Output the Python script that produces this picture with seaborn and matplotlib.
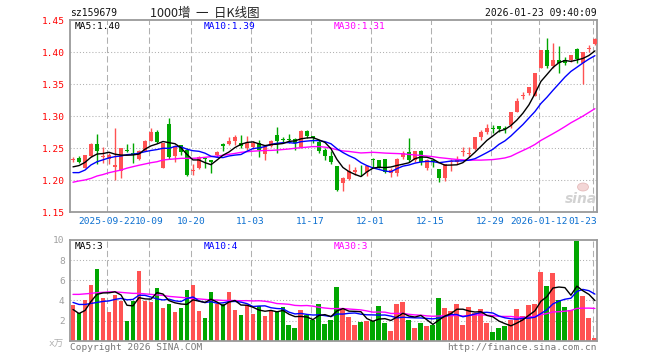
import math
import numpy as np
import pandas as pd
import matplotlib
matplotlib.use("Agg")
import matplotlib.pyplot as plt
from matplotlib.patches import Ellipse
import seaborn as sns

# ---------------- data ----------------
opens = [1.231, 1.235, 1.220, 1.238, 1.257, 1.236, 1.233, 1.221, 1.215, 1.247,
         1.242, 1.233, 1.246, 1.262, 1.276, 1.220, 1.288, 1.238, 1.255, 1.247,
         1.214, 1.219, 1.235, 1.231, 1.239, 1.256, 1.257, 1.262, 1.259, 1.250,
         1.252, 1.259, 1.241, 1.254, 1.271, 1.2645, 1.2645, 1.264, 1.252, 1.277,
         1.269, 1.260, 1.247, 1.238, 1.222, 1.196, 1.202, 1.213, 1.212, 1.2135,
         1.234, 1.232, 1.233, 1.211, 1.211, 1.236, 1.244, 1.231, 1.246, 1.219,
         1.232, 1.218, 1.204, 1.228, 1.228, 1.244, 1.241, 1.249, 1.267, 1.275,
         1.282, 1.285, 1.282, 1.286, 1.307, 1.3317, 1.336, 1.332, 1.376, 1.404,
         1.378, 1.388, 1.388, 1.388, 1.405, 1.383, 1.405, 1.413]
highs = [1.236, 1.238, 1.240, 1.258, 1.272, 1.252, 1.242, 1.282, 1.251, 1.257,
         1.259, 1.247, 1.263, 1.281, 1.278, 1.259, 1.298, 1.255, 1.255, 1.250,
         1.226, 1.238, 1.237, 1.231, 1.245, 1.259, 1.267, 1.271, 1.271, 1.269,
         1.261, 1.263, 1.255, 1.263, 1.284, 1.268, 1.272, 1.266, 1.279, 1.279,
         1.269, 1.263, 1.250, 1.245, 1.222, 1.205, 1.225, 1.221, 1.224, 1.224,
         1.235, 1.232, 1.233, 1.219, 1.235, 1.245, 1.266, 1.246, 1.247, 1.234,
         1.232, 1.218, 1.225, 1.233, 1.238, 1.2525, 1.2515, 1.267, 1.279, 1.2875,
         1.286, 1.285, 1.285, 1.307, 1.328, 1.338, 1.346, 1.367, 1.403, 1.423,
         1.414, 1.410, 1.393, 1.396, 1.407, 1.401, 1.411, 1.422]
lows = [1.229, 1.227, 1.219, 1.237, 1.226, 1.227, 1.226, 1.200, 1.203, 1.244,
        1.227, 1.232, 1.245, 1.262, 1.259, 1.219, 1.234, 1.228, 1.240, 1.206,
        1.208, 1.218, 1.219, 1.212, 1.237, 1.245, 1.255, 1.255, 1.250, 1.248,
        1.249, 1.237, 1.231, 1.252, 1.242, 1.259, 1.259, 1.247, 1.251, 1.266,
        1.259, 1.242, 1.231, 1.225, 1.184, 1.184, 1.200, 1.208, 1.206, 1.206,
        1.221, 1.220, 1.212, 1.205, 1.206, 1.234, 1.229, 1.229, 1.224, 1.216,
        1.221, 1.198, 1.199, 1.215, 1.226, 1.238, 1.237, 1.247, 1.263, 1.273,
        1.274, 1.276, 1.274, 1.281, 1.306, 1.327, 1.334, 1.331, 1.375, 1.375,
        1.376, 1.367, 1.380, 1.385, 1.384, 1.350, 1.401, 1.412]
closes = [1.234, 1.229, 1.239, 1.257, 1.246, 1.238, 1.239, 1.224, 1.250, 1.245,
          1.240, 1.246, 1.262, 1.276, 1.260, 1.259, 1.237, 1.254, 1.244, 1.208,
          1.216, 1.237, 1.233, 1.228, 1.244, 1.254, 1.262, 1.268, 1.253, 1.259,
          1.258, 1.247, 1.254, 1.261, 1.262, 1.2635, 1.2635, 1.258, 1.277, 1.269,
          1.266, 1.246, 1.238, 1.228, 1.185, 1.203, 1.214, 1.216, 1.211, 1.222,
          1.232, 1.221, 1.213, 1.216, 1.234, 1.242, 1.232, 1.245, 1.229, 1.232,
          1.228, 1.204, 1.225, 1.230, 1.234, 1.245, 1.243, 1.267, 1.276, 1.281,
          1.280, 1.280, 1.280, 1.307, 1.324, 1.3333, 1.345, 1.367, 1.403, 1.378,
          1.388, 1.383, 1.384, 1.396, 1.389, 1.400, 1.406, 1.420]
volumes = [3.54, 2.78, 4.04, 5.53, 7.12, 4.24, 2.85, 4.54, 3.97, 1.99,
           3.94, 6.92, 3.94, 3.84, 5.23, 3.25, 3.64, 2.85, 3.25, 5.03,
           5.53, 2.95, 2.25, 4.83, 3.64, 3.64, 4.83, 3.05, 2.55, 3.54,
           2.65, 3.44, 2.45, 2.95, 2.85, 3.34, 1.56, 1.26, 3.05, 2.55,
           2.05, 3.64, 1.66, 2.05, 5.36, 3.25, 2.35, 1.56, 1.85, 1.95,
           1.95, 3.44, 1.75, 0.96, 3.64, 3.84, 2.05, 1.26, 1.75, 1.46,
           1.56, 4.24, 3.25, 2.95, 3.64, 1.56, 3.34, 2.75, 3.15, 1.75,
           0.86, 1.26, 1.46, 2.05, 3.15, 2.45, 3.54, 3.64, 6.82, 5.43,
           6.72, 4.04, 3.34, 3.05, 9.93, 4.44, 2.25, 0.26]

# moving-average values at the left edge (their earlier data is off-chart)
price_ma5_head = [1.221, 1.223, 1.228, 1.236]
price_ma10_head = [1.212, 1.212, 1.216, 1.224, 1.229, 1.232, 1.235, 1.237, 1.238]
price_ma30_head = [1.197, 1.199, 1.2005, 1.203, 1.2067, 1.209, 1.2119, 1.214, 1.216, 1.219,
                   1.2213, 1.2235, 1.2255, 1.2275, 1.229, 1.2317, 1.2327, 1.2335, 1.2343, 1.2343,
                   1.2343, 1.235, 1.2359, 1.237, 1.238, 1.239, 1.2406, 1.242, 1.2437]
vol_ma5_head = [3.1, 2.7, 3.0, 3.9]
vol_ma10_head = [3.8, 3.6, 3.6, 3.7, 3.8, 3.9, 3.95, 4.1, 4.2]
vol_ma30_head = [4.6, 4.6, 4.65, 4.7, 4.77, 4.8, 4.85, 4.85, 4.8, 4.75,
                 4.7, 4.7, 4.65, 4.6, 4.55, 4.5, 4.4, 4.35, 4.3, 4.25,
                 4.2, 4.15, 4.1, 4.05, 4.04, 4.0, 4.0, 3.98, 3.97]

tick_idx = [6, 13, 20, 30, 40, 50, 60, 70, 78, 87]
tick_labels = ["2025-09-22", "10-09", "10-20", "11-03", "11-17", "12-01",
               "12-15", "12-29", "2026-01-12", "01-23"]
price_ticks = [1.15, 1.20, 1.25, 1.30, 1.35, 1.40, 1.45]
vol_ticks = [2, 4, 6, 8, 10]

# ---------------- style ----------------
sns.set_theme(style="white")
MONO = ['DejaVu Sans Mono', 'Noto Sans CJK SC']
plt.rcParams['font.family'] = MONO

RED = '#ff5252'
GREEN = '#00a600'
FRAME = '#9a9a9a'
GRID = '#b0b0b0'

def moving_avg(values, n, head):
    s = pd.Series(values).rolling(n).mean().to_numpy()
    s[:n - 1] = head
    return s

def floor2(x):
    return math.floor(x * 100) / 100

idx = np.arange(len(closes))
o = np.array(opens); c = np.array(closes)
h = np.array(highs); l = np.array(lows)
v = np.array(volumes)
up = c >= o
colors = np.where(up, RED, GREEN)

W, H = 660, 360
fig = plt.figure(figsize=(6.6, 3.6), dpi=100)
fig.patch.set_facecolor('white')

def fx(px):
    return px / W

def fy(py):
    return 1 - py / H

x_left, x_right = 70.3, 597.0
ax = fig.add_axes([fx(x_left), fy(212.3), fx(x_right - x_left), (212.3 - 20.3) / H])
axv = fig.add_axes([fx(x_left), fy(340.7), fx(x_right - x_left), (340.7 - 240.0) / H])

xlim = (-0.45, 87.35)
grid_off = -0.38

for a in (ax, axv):
    a.set_facecolor('white')
    a.set_xlim(*xlim)
    for sp in a.spines.values():
        sp.set_color(FRAME)
        sp.set_linewidth(1.3)
    for t in tick_idx:
        a.axvline(t + grid_off, color=GRID, lw=0.75, ls=(0, (6, 3)), zorder=0)
    a.set_xticks([])

# ----- price panel -----
ax.set_ylim(1.15, 1.45)
for p in price_ticks[1:-1]:
    ax.axhline(p, color=GRID, lw=0.75, ls=(0, (1, 2)), zorder=0)
ax.set_yticks(price_ticks)
ax.set_yticklabels([f"{p:.2f}" for p in price_ticks])
ax.tick_params(axis='y', length=0, pad=4, labelsize=6.8, labelcolor='#ff0000')

ax.vlines(idx, l, h, colors=colors, lw=1.0, zorder=2)
body_h = np.maximum(np.abs(c - o), 0.0011)
ax.bar(idx, body_h, bottom=np.minimum(o, c), width=0.75, color=colors,
       linewidth=0, zorder=3)

pma5 = moving_avg(closes, 5, price_ma5_head)
pma10 = moving_avg(closes, 10, price_ma10_head)
pma30 = moving_avg(closes, 30, price_ma30_head)
for ma, col in ((pma30, '#ff00ff'), (pma10, '#0000ff'), (pma5, '#000000')):
    sns.lineplot(x=idx, y=ma, color=col, lw=1.0, ax=ax, zorder=4)
ax.set_xlabel(''); ax.set_ylabel('')

# x date labels
for i, (t, lab) in enumerate(zip(tick_idx, tick_labels)):
    px = x_left + (t + grid_off - xlim[0]) / (xlim[1] - xlim[0]) * (x_right - x_left)
    if i == len(tick_idx) - 1:
        fig.text(fx(597), fy(222), lab, ha='right', va='center', fontsize=6.8,
                 color='#0b6fd0')
    else:
        fig.text(fx(px), fy(222), lab, ha='center', va='center', fontsize=6.8,
                 color='#0b6fd0')

# ----- volume panel -----
axv.set_ylim(0, 10)
for p in vol_ticks[:-1]:
    axv.axhline(p, color=GRID, lw=0.75, ls=(0, (1, 2)), zorder=0)
axv.set_yticks(vol_ticks)
axv.set_yticklabels([str(t) for t in vol_ticks])
axv.tick_params(axis='y', length=0, pad=4, labelsize=6.8, labelcolor='#a0a0a0')
axv.bar(idx, v, width=0.82, color=colors, linewidth=0, zorder=2)

vma5 = moving_avg(volumes, 5, vol_ma5_head)
vma10 = moving_avg(volumes, 10, vol_ma10_head)
vma30 = moving_avg(volumes, 30, vol_ma30_head)
for ma, col in ((vma30, '#ff00ff'), (vma10, '#0000ff'), (vma5, '#000000')):
    sns.lineplot(x=idx, y=ma, color=col, lw=1.0, ax=axv, zorder=4)
axv.set_xlabel(''); axv.set_ylabel('')

# ----- texts -----
fig.text(fx(70.5), fy(13), "sz159679", ha='left', va='center', fontsize=7, color='#111111')
fig.text(fx(150), fy(13), "1000增  一  日K线图", ha='left', va='center', fontsize=9,
         color='#222222', family=['Noto Sans CJK SC', 'DejaVu Sans'])
fig.text(fx(597), fy(13), "2026-01-23 09:40:09", ha='right', va='center', fontsize=7,
         color='#111111')

fig.text(fx(74.5), fy(26.5), f"MA5:{floor2(pma5[-1]):.2f}", ha='left', va='center', fontsize=6.8, color='#000000')
fig.text(fx(204), fy(26.5), f"MA10:{floor2(pma10[-1]):.2f}", ha='left', va='center', fontsize=6.8, color='#0000ff')
fig.text(fx(334), fy(26.5), f"MA30:{floor2(pma30[-1]):.2f}", ha='left', va='center', fontsize=6.8, color='#ff00ff')

fig.text(fx(74.5), fy(246.5), f"MA5:{int(vma5[-1])}", ha='left', va='center', fontsize=6.8, color='#000000')
fig.text(fx(204), fy(246.5), f"MA10:{int(vma10[-1])}", ha='left', va='center', fontsize=6.8, color='#0000ff')
fig.text(fx(334), fy(246.5), f"MA30:{int(vma30[-1])}", ha='left', va='center', fontsize=6.8, color='#ff00ff')

fig.text(fx(64), fy(343), "x万", ha='right', va='center', fontsize=6.8, color='#b0b0b0',
         family=MONO)
fig.text(fx(70), fy(347), "Copyright 2026 SINA.COM", ha='left', va='center', fontsize=6.8,
         color='#777777')
fig.text(fx(597), fy(347), "http://finance.sina.com.cn", ha='right', va='center', fontsize=6.8,
         color='#777777')

# sina watermark
fig.add_artist(Ellipse((fx(583), fy(187)), 11 / W, 8 / H, transform=fig.transFigure,
                       facecolor='#f1cccc', edgecolor='#e0b0b0', lw=0.6, alpha=0.8))
fig.text(fx(581), fy(199), "sina", ha='center', va='center', fontsize=10, color='#d2d2d2',
         fontweight='bold', style='italic', family='DejaVu Sans')

fig.savefig("out.png", dpi=100, facecolor='white')
